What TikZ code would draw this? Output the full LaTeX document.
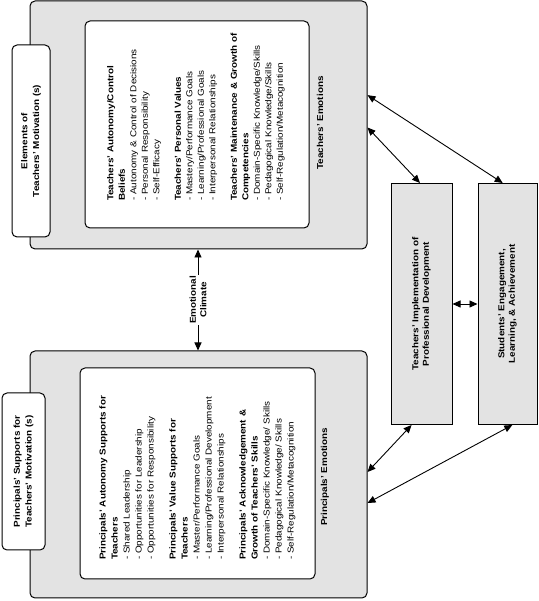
\documentclass[tikz,border=0pt]{standalone}
\usepackage{fontspec}
\setmainfont{Liberation Sans}[FakeStretch=1.15]
\usetikzlibrary{arrows.meta,calc}
\definecolor{boxgray}{gray}{0.89}

\begin{document}
\begin{tikzpicture}[x=1pt,y=1pt,
    font=\fontsize{8.6}{11.5}\selectfont,
    >={Triangle[length=8pt,width=7pt]},
    outer/.style={draw,line width=1pt,fill=boxgray,rounded corners=5pt,rotate=90},
    inner/.style={draw,line width=1pt,fill=white,rounded corners=5pt,rotate=90},
    tag/.style={draw,line width=1pt,fill=white,rounded corners=5pt,rotate=90,align=center,font=\fontsize{8.6}{11.7}\selectfont\bfseries},
    result/.style={draw,line width=1pt,fill=boxgray,rotate=90,align=center,font=\fontsize{8.6}{10.5}\selectfont\bfseries},
    list/.style={rotate=90,align=left,inner sep=0pt},
    lbl/.style={rotate=90,align=center,inner sep=1pt,font=\fontsize{8.6}{10.5}\selectfont\bfseries},
    dbl/.style={<->,line width=.9pt}]
  \useasboundingbox (0,0) rectangle (538,601);

  % teachers
  \node[outer,minimum width=248pt,minimum height=337pt] (tbox) at (198.5,476) {};
  \node[inner,minimum width=207pt,minimum height=224pt] (tin) at (197,476.5) {};
  \node[tag,minimum width=192pt,minimum height=38pt] (telem) at (31,460) {Elements of\\Teachers' Motivation (s)};
  \node[list,text width=174pt] (tlist) at (196,487) {%
    \textbf{Teachers' Autonomy/Control}\\
    \textbf{Beliefs}\\
    - Autonomy \& Control of Decisions\\
    - Personal Responsibility\\
    - Self-Efficacy\\[10pt]
    \textbf{Teachers' Personal Values}\\
    - Mastery/Performance Goals\\
    - Learning/Professional Goals\\
    - Interpersonal Relationships\\[10pt]
    \textbf{Teachers' Maintenance \& Growth of}\\
    \textbf{Competencies}\\
    - Domain-Specific Knowledge/Skills\\
    - Pedagogical Knowledge/Skills\\
    - Self-Regulation/Metacognition};
  \node[lbl] (temo) at (320,478) {Teachers' Emotions};

  % principals
  \node[outer,minimum width=247pt,minimum height=337pt] (bbox) at (198.5,126.5) {};
  \node[inner,minimum width=211pt,minimum height=235pt] (bin) at (197.5,127.5) {};
  \node[tag,minimum width=157pt,minimum height=43pt] (pelem) at (23.5,129.5) {Principals' Supports for\\Teachers' Motivation (s)};
  \node[list,text width=186pt,font=\fontsize{8.6}{12}\selectfont] (blist) at (197.5,134) {%
    \textbf{Principals' Autonomy Supports for}\\
    \textbf{Teachers}\\
    - Shared Leadership\\
    - Opportunities for Leadership\\
    - Opportunities for Responsibility\\[10pt]
    \textbf{Principals' Value Supports for}\\
    \textbf{Teachers}\\
    - Master/Performance Goals\\
    - Learning/Professional Development\\
    - Interpersonal Relationships\\[10pt]
    \textbf{Principals' Acknowledgement \&}\\
    \textbf{Growth of Teachers' Skills}\\
    - Domain-Specific Knowledge/ Skills\\
    - Pedagogical Knowledge/ Skills\\
    - Self-Regulation/Metacognition};
  \node[lbl] (pemo) at (325,124) {Principals' Emotions};

  % climate
  \node[lbl] (clim) at (198,301) {Emotional\\Climate};
  \draw[->,line width=.9pt] (clim.east) -- (clim.east |- tbox.west);
  \draw[->,line width=.9pt] (clim.west) -- (clim.west |- bbox.east);

  % outcomes
  \node[result,minimum width=241pt,minimum height=61pt] (impl) at (421.5,297) {Teachers' Implementation of\\Professional Development};
  \node[result,minimum width=241pt,minimum height=59pt] (stu) at (507.5,297) {Students' Engagement,\\Learning, \& Achievement};

  \draw[dbl] ($(tbox.south west)!.62!(tbox.south east)$) -- ($(stu.north east)!.42!(stu.south east)$);
  \draw[dbl] ($(tbox.south west)!.49!(tbox.south east)$) -- ($(impl.north east)!.475!(impl.south east)$);
  \draw[dbl] ($(impl.north west)!.34!(impl.south west)$) -- ($(bbox.south west)!.51!(bbox.south east)$);
  \draw[dbl] ($(stu.north west)!.58!(stu.south west)$) -- ($(bbox.south west)!.385!(bbox.south east)$);
  \draw[dbl] (impl.south) -- (stu.north);
\end{tikzpicture}
\end{document}
